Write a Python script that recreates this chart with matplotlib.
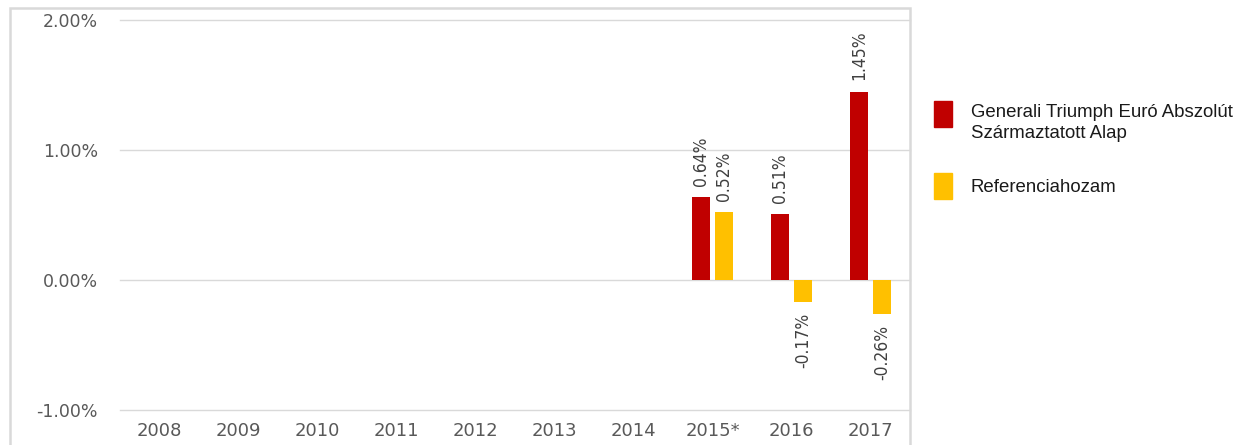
import matplotlib.pyplot as plt
import numpy as np
from matplotlib.patches import Rectangle
from matplotlib.ticker import FuncFormatter

# data
years = ['2008', '2009', '2010', '2011', '2012', '2013', '2014', '2015*', '2016', '2017']
fund = [np.nan, np.nan, np.nan, np.nan, np.nan, np.nan, np.nan, 0.64, 0.51, 1.45]
benchmark = [np.nan, np.nan, np.nan, np.nan, np.nan, np.nan, np.nan, 0.52, -0.17, -0.26]
series_names = ['Generali Triumph Euró Abszolút\nSzármaztatott Alap', 'Referenciahozam']

red = '#c00000'
yellow = '#ffc000'
grid_col = '#d9d9d9'
text_col = '#595959'

W, H = 1242, 445
fig = plt.figure(figsize=(W / 100, H / 100), dpi=100)
ax = fig.add_axes([120 / W, (H - 410) / H, 790 / W, 390 / H])

x = np.arange(len(years))
bw = 0.227
off = 0.145
b1 = ax.bar(x - off, fund, bw, color=red, zorder=3)
b2 = ax.bar(x + off, benchmark, bw, color=yellow, zorder=3)

# value labels, rotated like the original
for bars, vals in [(b1, fund), (b2, benchmark)]:
    for rect, v in zip(bars, vals):
        if np.isnan(v):
            continue
        cx = rect.get_x() + rect.get_width() / 2
        if v >= 0:
            ax.annotate(f'{v:.2f}%', (cx, v), xytext=(0, 8), textcoords='offset points',
                        rotation=90, ha='center', va='bottom', fontsize=12.5,
                        fontstretch='condensed', color='#404040')
        else:
            ax.annotate(f'{v:.2f}%', (cx, v), xytext=(0, -8), textcoords='offset points',
                        rotation=90, ha='center', va='top', fontsize=12.5,
                        fontstretch='condensed', color='#404040')

ax.set_xlim(-0.5, len(years) - 0.5)
ax.set_ylim(-1.0, 2.0)
ax.set_yticks([-1.0, 0.0, 1.0, 2.0])
ax.yaxis.set_major_formatter(FuncFormatter(lambda v, p: f'{v:.2f}%'))
ax.set_xticks(x)
ax.set_xticklabels(years)
ax.tick_params(axis='both', length=0, colors=text_col)
ax.tick_params(axis='y', pad=16, labelsize=12.5)
ax.tick_params(axis='x', pad=9, labelsize=13)
ax.grid(axis='y', color=grid_col, linewidth=1, zorder=0)
for gl in ax.get_ygridlines():
    gl.set_clip_on(False)
for s in ax.spines.values():
    s.set_visible(False)

# outer frame of the chart area
fig.patches.append(Rectangle((10 / W, -0.1), 900 / W, 1.1 - 8 / H, transform=fig.transFigure,
                             fill=False, edgecolor=grid_col, linewidth=1.8))

# legend drawn by hand
fig.patches.append(Rectangle((934 / W, (H - 127) / H), 18 / W, 26 / H,
                             transform=fig.transFigure, color=red))
fig.patches.append(Rectangle((934 / W, (H - 199) / H), 18 / W, 26 / H,
                             transform=fig.transFigure, color=yellow))
fig.text(971 / W, (H - 123) / H, series_names[0], fontsize=13.4, family='Liberation Sans',
         va='center', ha='left', color='#1a1a1a', linespacing=1.3)
fig.text(971 / W, (H - 187) / H, series_names[1], fontsize=13.4, family='Liberation Sans',
         va='center', ha='left', color='#1a1a1a')

fig.savefig('out.png', dpi=100)
